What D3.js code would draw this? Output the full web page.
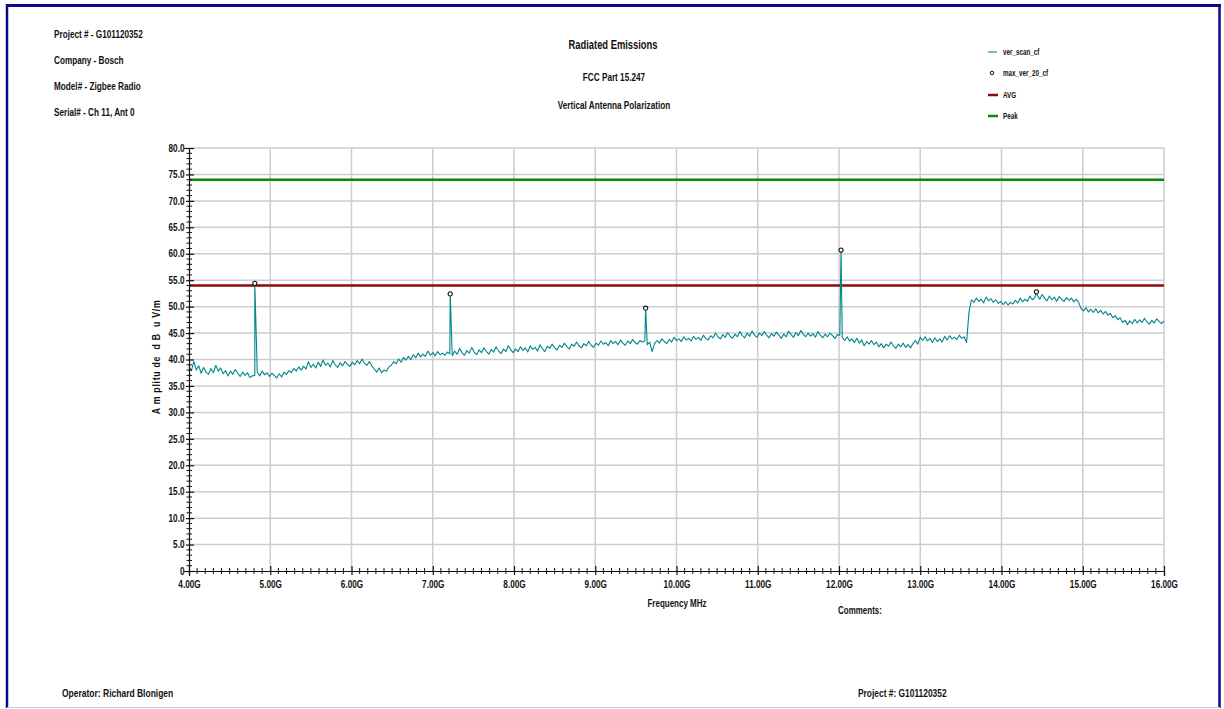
<!DOCTYPE html>
<html>
<head>
<meta charset="utf-8">
<script src="https://cdn.jsdelivr.net/npm/d3@7"></script>
<style>
  html, body { margin: 0; padding: 0; background: #ffffff; }
  svg { display: block; }
  text { font-family: "Liberation Sans Narrow", "Arial Narrow", "Liberation Sans", Arial, sans-serif; font-weight: bold; fill: #111; white-space: pre; }
</style>
</head>
<body>
<svg id="chart" width="1224" height="709"></svg>
<script>
// ---- header and footer text ----
const headerLines = ["Project # - G101120352", "Company - Bosch", "Model# - Zigbee Radio", "Serial# - Ch 11, Ant 0"];
const titleLines = ["Radiated Emissions", "FCC Part 15.247", "Vertical Antenna Polarization"];
const footerLeft = "Operator: Richard Blonigen";
const footerRight = "Project #: G101120352";
const commentsLabel = "Comments:";
const xAxisTitle = "Frequency MHz";
const yAxisTitle = "A m plitu de  d B  u V/m";

// ---- axes ----
const yTicks = [0, 5, 10, 15, 20, 25, 30, 35, 40, 45, 50, 55, 60, 65, 70, 75, 80];
const yTickLabels = ["0", "5.0", "10.0", "15.0", "20.0", "25.0", "30.0", "35.0", "40.0", "45.0", "50.0", "55.0", "60.0", "65.0", "70.0", "75.0", "80.0"];
const xTicks = [4, 5, 6, 7, 8, 9, 10, 11, 12, 13, 14, 15, 16];
const xTickLabels = ["4.00G", "5.00G", "6.00G", "7.00G", "8.00G", "9.00G", "10.00G", "11.00G", "12.00G", "13.00G", "14.00G", "15.00G", "16.00G"];

// ---- limit lines (dBuV/m) ----
const avgLimit = 54;
const peakLimit = 74;

// ---- vertical scan, 4.00 to 16.00 GHz, evenly spaced sweep points (dBuV/m) ----
const scanStartGHz = 4.0;
const scanStopGHz = 16.0;
const scanValues = [
  // 4.00 - 4.81
  38.6, 37.9, 39.6, 38.0, 38.8, 37.4, 38.5, 37.6, 37.2, 38.3,
  37.5, 38.9, 37.8, 38.4, 37.3, 37.9, 36.9, 37.8, 37.2, 38.1,
  37.4, 36.8, 37.6, 37.0, 37.5, 36.6, 36.9, 37.0,
  // 4.84 - 5.50
  37.6, 36.9, 37.8, 37.1, 37.5, 36.8, 37.4, 37.0, 36.5, 37.3,
  36.7, 37.6, 37.2, 37.9, 37.5, 38.3, 37.8, 38.6, 38.0, 38.7,
  38.2, 39.6, 38.5,
  // 5.53 - 6.25
  39.1, 38.4, 39.5, 38.7, 39.9, 38.9, 39.3, 38.6, 39.8, 39.0,
  38.5, 39.4, 38.8, 39.6, 39.1, 38.7, 39.5, 39.0, 39.8, 39.2,
  40.1, 39.3, 38.9, 39.6, 38.8,
  // 6.28 - 6.46
  38.2, 37.6, 38.4, 37.5, 38.0, 37.8, 38.6,
  // 6.49 - 7.18
  38.9, 39.6, 39.2, 40.1, 39.5, 40.4, 39.9, 40.6, 40.0, 40.9,
  40.3, 41.2, 40.5, 41.0, 40.6, 41.6, 40.8, 41.3, 40.7, 41.5,
  40.9, 41.2, 40.8, 41.4,
  // 7.21 - 7.99
  41.1, 40.7, 41.6, 41.0, 42.1, 41.3, 40.8, 41.7, 41.2, 42.3,
  41.4, 40.9, 41.8, 41.3, 42.2, 41.5, 41.0, 41.9, 41.4, 42.4,
  41.6, 41.1, 42.0, 41.5, 42.6, 41.8, 41.3,
  // 8.02 - 9.01
  42.0, 41.5, 42.4, 41.7, 42.2, 41.4, 42.6, 41.9, 42.3, 41.6,
  42.8, 42.0, 41.5, 42.5, 42.1, 42.9, 42.2, 41.8, 42.7, 42.3,
  43.1, 42.4, 42.0, 42.9, 42.5, 43.3, 42.6, 42.2, 43.0, 42.6,
  43.4, 42.7, 42.3, 43.1,
  // 9.04 - 9.61
  42.7, 43.5, 42.9, 43.2, 42.6, 43.6, 43.0, 43.4, 42.8, 43.7,
  43.1, 42.7, 43.5, 43.0, 43.8, 43.2, 42.9, 43.6, 43.3, 43.5,
  // 9.64 - 10.00
  42.8, 43.3, 41.5, 43.0, 43.6, 43.1, 43.9, 43.4, 43.0, 43.8,
  43.3, 44.2, 43.6,
  // 10.03 - 10.99
  43.9, 43.4, 44.3, 43.7, 44.0, 43.5, 44.4, 43.8, 44.2, 43.6,
  44.6, 44.0, 43.7, 44.5, 44.1, 45.0, 44.3, 43.9, 44.7, 44.2,
  45.1, 44.4, 44.0, 44.8, 44.3, 45.3, 44.5, 44.1, 45.0, 44.4,
  45.4, 44.6, 44.2,
  // 11.02 - 12.01
  45.0, 44.5, 45.3, 44.6, 44.1, 44.9, 44.4, 45.2, 44.6, 44.0,
  44.8, 44.3, 45.4, 44.7, 44.2, 45.1, 44.5, 45.5, 44.8, 44.3,
  45.0, 44.4, 44.9, 44.2, 45.3, 44.6, 44.1, 44.8, 44.3, 45.0,
  44.5, 44.0, 44.7, 44.6,
  // 12.04 - 13.00
  44.2, 43.6, 44.3, 43.5, 43.9, 43.2, 44.0, 43.1, 43.7, 42.6,
  43.4, 42.9, 43.6, 42.8, 43.3, 42.4, 43.0, 42.2, 42.9, 42.5,
  43.3, 42.6, 42.1, 42.9, 42.4, 43.1, 42.3, 42.8, 42.2, 43.0,
  43.6, 42.9, 44.2,
  // 13.03 - 13.57
  43.6, 44.3, 43.5, 44.0, 43.2, 44.1, 43.4, 43.9, 43.3, 44.4,
  43.7, 44.5, 43.9, 44.2, 43.8, 44.6, 44.0, 44.3, 43.2,
  // 13.60 - 14.41
  49.0, 51.3, 50.8, 51.6, 51.0, 51.4, 50.7, 51.8, 51.1, 51.5,
  50.8, 51.3, 50.6, 51.0, 50.4, 50.9, 50.3, 50.8, 50.5, 51.2,
  50.7, 51.6, 50.9, 51.4, 51.0, 52.0, 51.3, 51.7,
  // 14.44 - 15.10
  52.2, 51.4, 52.3, 51.6, 51.1, 52.0, 51.3, 51.8, 51.0, 51.9,
  51.4, 51.0, 51.7, 51.2, 51.6, 50.9, 51.4, 50.8, 49.6, 49.2,
  49.8, 49.0, 49.5,
  // 15.13 - 15.40
  48.9, 49.6, 48.8, 49.3, 48.6, 49.1, 48.4, 48.7, 47.9, 48.3,
  // 15.43 - 16.00
  47.5, 47.9, 47.0, 47.4, 46.6, 47.3, 46.8, 47.6, 46.9, 47.5,
  47.0, 47.8, 47.1, 46.7, 47.4, 46.9, 47.7, 47.2, 46.8, 47.3
];

// ---- harmonic maxima of the 2405 MHz carrier (max_ver_20_cf) ----
const harmonicFreqs = [4.81, 7.215, 9.62, 12.025, 14.43];
const harmonicValues = [54.4, 52.4, 49.7, 60.7, 52.8];

// ---- legend ----
const legendLabels = ["ver_scan_cf", "max_ver_20_cf", "AVG", "Peak"];

// ---- colours ----
const traceColor = "#00868a";
const avgColor = "#8b0a0a";
const peakColor = "#0a8a0a";
const gridColor = "#cdcdcd";
const frameColor = "#0c0c8a";

const svg = d3.select("#chart");

// condensed lettering: move the anchor point into a transform and squeeze horizontally
function condense(sel, sx) {
  sel.each(function () {
    const t = d3.select(this);
    const tx = +t.attr("x") || 0, ty = +t.attr("y") || 0;
    t.attr("x", 0).attr("y", 0).attr("transform", `translate(${tx},${ty}) scale(${sx},1)`);
  });
  return sel;
}

// page frame
svg.append("line").attr("x1", 6).attr("x2", 1221).attr("y1", 5.5).attr("y2", 5.5)
  .attr("stroke", frameColor).attr("stroke-width", 3);
svg.append("line").attr("x1", 7).attr("x2", 7).attr("y1", 4).attr("y2", 708)
  .attr("stroke", frameColor).attr("stroke-width", 2.5);
svg.append("line").attr("x1", 1219.5).attr("x2", 1219.5).attr("y1", 4).attr("y2", 708)
  .attr("stroke", frameColor).attr("stroke-width", 2.5);
svg.append("line").attr("x1", 7).attr("x2", 1220).attr("y1", 707.5).attr("y2", 707.5)
  .attr("stroke", "#c4c4ee").attr("stroke-width", 1);

// scales
const x = d3.scaleLinear().domain([4, 16]).range([189, 1164]);
const y = d3.scaleLinear().domain([0, 80]).range([571, 148]);

// header block
condense(svg.append("g").selectAll("text").data(headerLines).join("text")
  .attr("x", 54).attr("y", (d, i) => 37.5 + i * 26.3)
  .attr("font-size", 10).text(d => d), 0.82);

// titles
condense(svg.append("g").selectAll("text").data(titleLines.slice(0, 1)).join("text")
  .attr("x", 613).attr("y", 49).attr("text-anchor", "middle")
  .attr("font-size", 12.5).text(d => d), 0.75);
condense(svg.append("g").selectAll("text").data(titleLines.slice(1)).join("text")
  .attr("x", 614).attr("y", (d, i) => [80.5, 108.5][i]).attr("text-anchor", "middle")
  .attr("font-size", 10).text(d => d), 0.82);

// grid
const grid = svg.append("g");
grid.selectAll("line.h").data(yTicks.filter(v => v > 0)).join("line")
  .attr("class", "h")
  .attr("x1", x(4)).attr("x2", x(16))
  .attr("y1", d => y(d)).attr("y2", d => y(d))
  .attr("stroke", gridColor).attr("stroke-width", 1.5);
grid.selectAll("line.v").data(xTicks.filter(v => v > 4)).join("line")
  .attr("class", "v")
  .attr("x1", d => x(d)).attr("x2", d => x(d))
  .attr("y1", y(80)).attr("y2", y(0))
  .attr("stroke", gridColor).attr("stroke-width", 1.5);

// limit lines
svg.append("line").attr("x1", x(4)).attr("x2", x(16))
  .attr("y1", y(peakLimit)).attr("y2", y(peakLimit))
  .attr("stroke", peakColor).attr("stroke-width", 2.5);
svg.append("line").attr("x1", x(4)).attr("x2", x(16))
  .attr("y1", y(avgLimit)).attr("y2", y(avgLimit))
  .attr("stroke", avgColor).attr("stroke-width", 2.5);

// scan trace with harmonic maxima merged in frequency order
const scanStep = (scanStopGHz - scanStartGHz) / (scanValues.length - 1);
const scanPoints = scanValues.map((v, i) => ({ f: scanStartGHz + i * scanStep, v }));
const harmonicPoints = harmonicFreqs.map((f, i) => ({ f, v: harmonicValues[i] }));
const tracePoints = scanPoints.concat(harmonicPoints).sort((a, b) => a.f - b.f);

svg.append("path").datum(tracePoints)
  .attr("fill", "none").attr("stroke", traceColor).attr("stroke-width", 1.1)
  .attr("stroke-linejoin", "round")
  .attr("d", d3.line().x(d => x(d.f)).y(d => y(d.v)));

// maxima markers
svg.append("g").selectAll("path").data(harmonicPoints).join("path")
  .attr("transform", d => `translate(${x(d.f)},${y(d.v)})`)
  .attr("d", d3.symbol(d3.symbolCircle, 14))
  .attr("fill", "#fff").attr("stroke", "#111").attr("stroke-width", 1.1);

// y axis
const yAxis = d3.axisLeft(y).tickValues(yTicks).tickFormat((d, i) => yTickLabels[i])
  .tickSize(5).tickPadding(3);
const gy = svg.append("g").attr("transform", `translate(${x(4)},0)`).call(yAxis);
gy.select(".domain").attr("stroke", "#111").attr("stroke-width", 1.2);
gy.selectAll(".tick line").attr("x2", -3).attr("x1", 5).attr("stroke", "#111").attr("stroke-width", 1.2);
condense(gy.selectAll(".tick text").attr("font-size", 10).attr("font-family", null).attr("fill", "#111").attr("x", -4.5), 0.82);
// y minor ticks every 1 dB
const yMinor = d3.range(0, 81, 1).filter(v => v % 5 !== 0);
svg.append("g").selectAll("line").data(yMinor).join("line")
  .attr("x1", x(4) - 2.5).attr("x2", x(4) + 3)
  .attr("y1", d => y(d)).attr("y2", d => y(d))
  .attr("stroke", "#111").attr("stroke-width", 1);

// x axis
const xAxis = d3.axisBottom(x).tickValues(xTicks).tickFormat((d, i) => xTickLabels[i])
  .tickSize(5).tickPadding(3);
const gx = svg.append("g").attr("transform", `translate(0,${y(0)})`).call(xAxis);
gx.select(".domain").attr("stroke", "#111").attr("stroke-width", 1.2);
gx.selectAll(".tick line").attr("y1", -5).attr("y2", 4).attr("stroke", "#111").attr("stroke-width", 1.2);
condense(gx.selectAll(".tick text").attr("font-size", 10).attr("font-family", null).attr("fill", "#111").attr("y", 9.5), 0.82);
// x minor ticks every 0.1 GHz
const xMinor = d3.range(40, 161, 1).filter(v => v % 10 !== 0).map(v => v / 10);
svg.append("g").selectAll("line").data(xMinor).join("line")
  .attr("x1", d => x(d)).attr("x2", d => x(d))
  .attr("y1", y(0) - 3).attr("y2", y(0) + 3)
  .attr("stroke", "#111").attr("stroke-width", 1);

// axis titles
condense(svg.append("text").attr("x", 677).attr("y", 607).attr("text-anchor", "middle")
  .attr("font-size", 10).text(xAxisTitle), 0.8);
svg.append("text").attr("transform", `translate(160,${y(40.5)}) rotate(-90) scale(0.88,1)`)
  .attr("text-anchor", "middle").attr("font-size", 10).attr("letter-spacing", 0.8).text(yAxisTitle);
condense(svg.append("text").attr("x", 838).attr("y", 614).attr("font-size", 10).text(commentsLabel), 0.8);

// legend
const legend = svg.append("g");
const legendY = [52, 73, 95, 116];
condense(legend.selectAll("text").data(legendLabels).join("text")
  .attr("x", 1003).attr("y", (d, i) => legendY[i] + 3)
  .attr("font-size", 8.5).attr("font-weight", "normal").text(d => d), 0.74);
legend.append("line").attr("x1", 988).attr("x2", 997).attr("y1", legendY[0]).attr("y2", legendY[0])
  .attr("stroke", traceColor).attr("stroke-width", 1.1);
legend.append("path").attr("transform", `translate(992,${legendY[1]})`)
  .attr("d", d3.symbol(d3.symbolCircle, 10)).attr("fill", "#fff").attr("stroke", "#111").attr("stroke-width", 1);
legend.append("line").attr("x1", 988).attr("x2", 998).attr("y1", legendY[2]).attr("y2", legendY[2])
  .attr("stroke", avgColor).attr("stroke-width", 2.5);
legend.append("line").attr("x1", 988).attr("x2", 998).attr("y1", legendY[3]).attr("y2", legendY[3])
  .attr("stroke", peakColor).attr("stroke-width", 2.5);

// footer
condense(svg.append("text").attr("x", 62).attr("y", 697).attr("font-size", 10).text(footerLeft), 0.85);
condense(svg.append("text").attr("x", 858).attr("y", 697).attr("font-size", 10).text(footerRight), 0.84);
</script>
</body>
</html>
